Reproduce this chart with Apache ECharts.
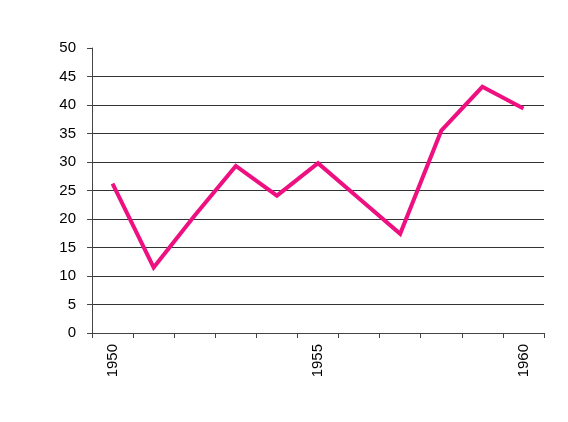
<!DOCTYPE html>
<html>
<head>
<meta charset="utf-8">
<script src="https://cdn.jsdelivr.net/npm/echarts@6/dist/echarts.min.js"></script>
<style>
html,body{margin:0;padding:0;background:#fff;}
#chart{width:568px;height:422px;}
</style>
</head>
<body>
<div id="chart"></div>
<script>
var years = ['1950','1951','1952','1953','1954','1955','1956','1957','1958','1959','1960'];
var values = [26.2, 11.5, 20.6, 29.3, 24.1, 29.8, 23.6, 17.4, 35.5, 43.2, 39.4];
var yTicks = [0, 5, 10, 15, 20, 25, 30, 35, 40, 45, 50];

var chart = echarts.init(document.getElementById('chart'));
var gridColors = yTicks.map(function(t, i){ return i === yTicks.length - 1 ? 'rgba(0,0,0,0)' : '#333'; });
chart.setOption({
  animation: false,
  backgroundColor: '#fff',
  grid: {left: 92, right: 24, top: 48, bottom: 89, containLabel: false},
  xAxis: {
    type: 'category',
    data: years,
    boundaryGap: true,
    axisLine: {show: true, lineStyle: {color: '#444', width: 1}},
    axisTick: {show: true, interval: 0, length: 5, lineStyle: {color: '#444'}},
    axisLabel: {
      interval: function(i){ return i % 5 === 0; },
      rotate: 90,
      color: '#000',
      fontFamily: 'Liberation Sans, Arial, sans-serif',
      fontSize: 15,
      margin: 11
    },
    splitLine: {show: false}
  },
  yAxis: {
    type: 'value',
    min: 0,
    max: 50,
    interval: 5,
    axisLine: {show: true, lineStyle: {color: '#444', width: 1}},
    axisTick: {show: true, length: 5, lineStyle: {color: '#444'}},
    axisLabel: {
      color: '#000',
      fontFamily: 'Liberation Sans, Arial, sans-serif',
      fontSize: 15,
      margin: 16
    },
    splitLine: {show: true, lineStyle: {color: gridColors, width: 1}}
  },
  series: [{
    type: 'line',
    data: values,
    symbol: 'none',
    lineStyle: {color: '#EE1080', width: 4, join: 'miter'},
    itemStyle: {color: '#EE1080'}
  }]
});
</script>
</body>
</html>
